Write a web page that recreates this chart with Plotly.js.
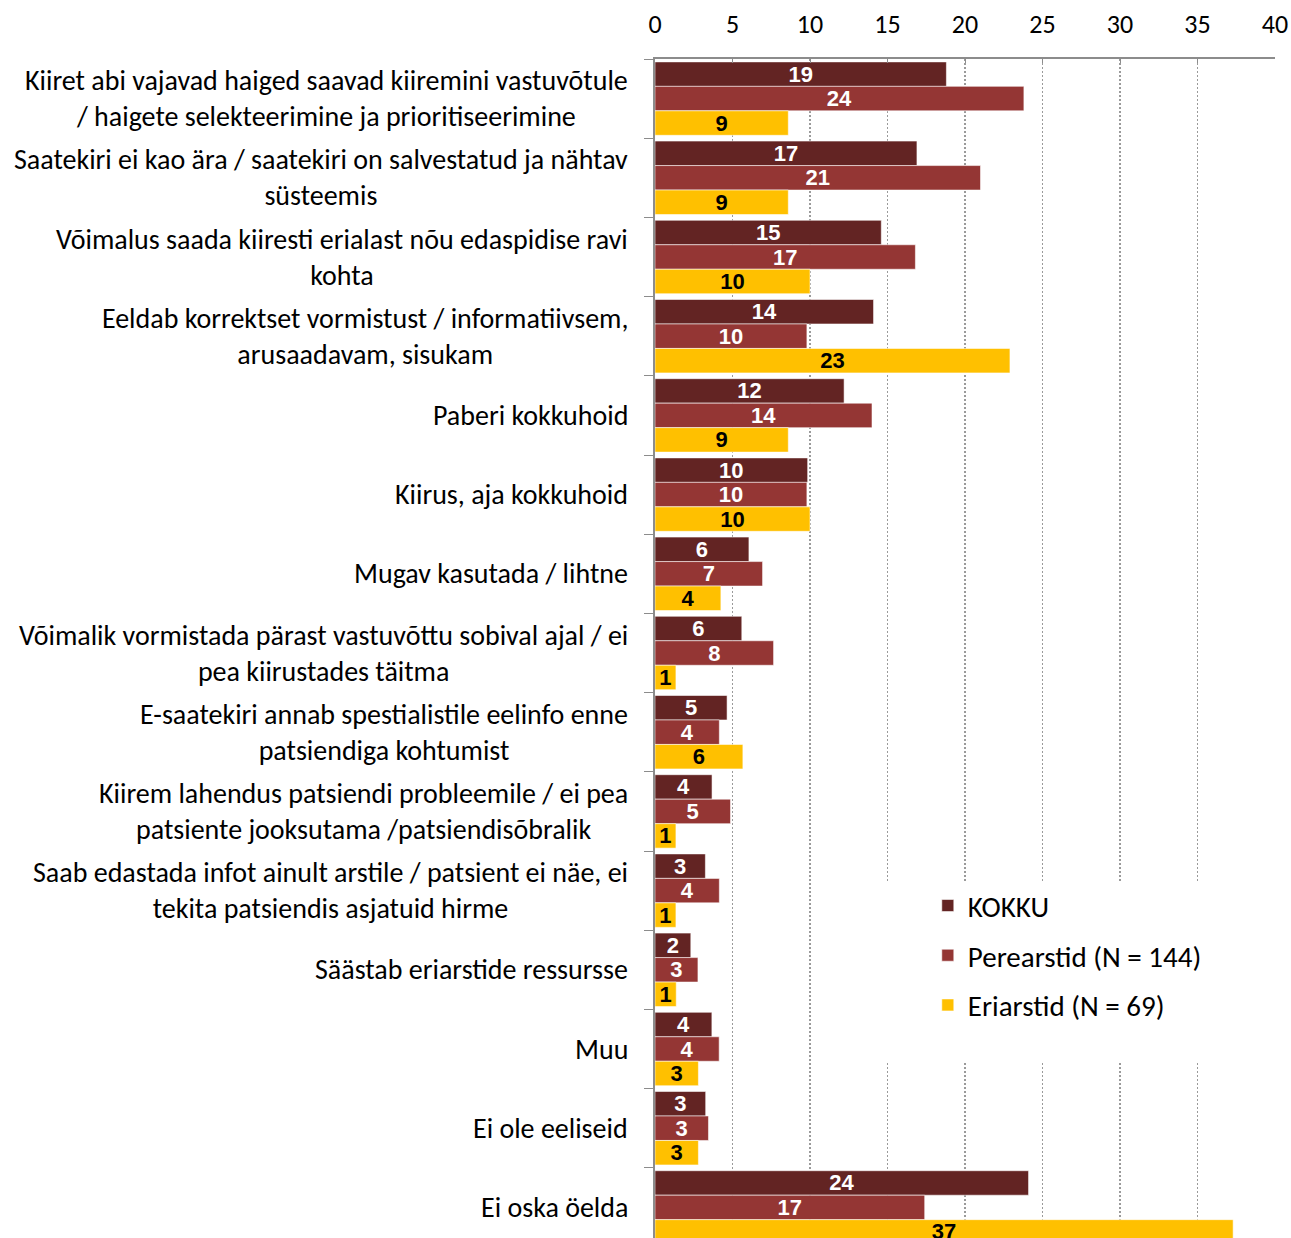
<!DOCTYPE html>
<html>
<head>
<meta charset="utf-8">
<script src="https://cdn.plot.ly/plotly-3.0.1.min.js"></script>
<style>
  html, body { margin: 0; padding: 0; background: #fff; overflow: hidden; }
  #chart { width: 1291px; height: 1238px; }
</style>
</head>
<body>
<div id="chart"></div>
<script>
// ---- data ----
const categories = [
  "Kiiret abi vajavad haiged saavad kiiremini vastuvõtule<br>/ haigete selekteerimine ja prioritiseerimine",
  "Saatekiri ei kao ära / saatekiri on salvestatud ja nähtav<br>süsteemis",
  "Võimalus saada kiiresti erialast nõu edaspidise ravi<br>kohta",
  "Eeldab korrektset vormistust / informatiivsem,<br>arusaadavam, sisukam",
  "Paberi kokkuhoid",
  "Kiirus, aja kokkuhoid",
  "Mugav kasutada / lihtne",
  "Võimalik vormistada pärast vastuvõttu sobival ajal / ei<br>pea kiirustades täitma",
  "E-saatekiri annab spestialistile eelinfo enne<br>patsiendiga kohtumist",
  "Kiirem lahendus patsiendi probleemile / ei pea<br>patsiente jooksutama /patsiendisõbralik",
  "Saab edastada infot ainult arstile / patsient ei näe, ei<br>tekita patsiendis asjatuid hirme",
  "Säästab eriarstide ressursse",
  "Muu",
  "Ei ole eeliseid",
  "Ei oska öelda"
];
const kokku      = [18.8, 16.9, 14.6, 14.1, 12.2, 9.85, 6.06, 5.6, 4.65, 3.68, 3.25, 2.31, 3.67, 3.27, 24.1];
const perearstid = [23.8, 21.0, 16.8, 9.8, 14.0, 9.8, 6.94, 7.65, 4.15, 4.87, 4.15, 2.77, 4.14, 3.45, 17.4];
const eriarstid  = [8.6, 8.6, 10.0, 22.9, 8.6, 10.0, 4.25, 1.35, 5.67, 1.35, 1.35, 1.37, 2.8, 2.8, 37.3];
const seriesNames = ["KOKKU", "Perearstid (N = 144)", "Eriarstid (N = 69)"];
const xTicks = [0, 5, 10, 15, 20, 25, 30, 35, 40];

// ---- styles ----
const colors = ["#632423", "#943634", "#FFC000"];
const textColors = ["#ffffff", "#ffffff", "#000000"];
const labelFont = "Carlito, Calibri, Lato, 'Open Sans', sans-serif";

const values = [kokku, perearstid, eriarstid];
const traces = values.map((v, i) => ({
  type: "bar",
  orientation: "h",
  name: seriesNames[i],
  legendgroup: "g" + i,
  x: v,
  y: categories,
  marker: { color: colors[i], line: { color: "rgba(255,255,255,0.55)", width: 1 } },
  texttemplate: "%{x:.0f}",
  textposition: "inside",
  insidetextanchor: "middle",
  constraintext: "none",
  textangle: 0,
  textfont: { family: "'Liberation Sans', Arial, sans-serif", size: 22, color: textColors[i], weight: "bold" },
  hoverinfo: "x+name"
}));

const annotations = categories.map(c => ({
  x: 0, xref: "x", y: c, yref: "y",
  xanchor: "right", yanchor: "middle", xshift: -25,
  align: "center", showarrow: false,
  text: c,
  font: { family: labelFont, size: 28, color: "#000" }
}));

const layout = {
  width: 1291, height: 1238,
  margin: { l: 655, r: 16, t: 59, b: 0, pad: 0 },
  paper_bgcolor: "#fff", plot_bgcolor: "#fff",
  barmode: "group",
  bargap: 0.073,
  bargroupgap: 0,
  showlegend: true,
  legend: {
    x: 0.44, xanchor: "left", y: 0.3035, yanchor: "top",
    bgcolor: "rgba(0,0,0,0)",
    font: { family: labelFont, size: 29, color: "#000" },
    tracegroupgap: 9,
    traceorder: "grouped"
  },
  xaxis: {
    side: "top",
    range: [0, 40],
    tickvals: xTicks,
    ticktext: xTicks.map(String),
    showgrid: true,
    gridcolor: "#9a9a9a",
    gridwidth: 1.5,
    griddash: "2px,2px",
    zeroline: false,
    showline: true,
    linecolor: "#8c8c8c",
    linewidth: 2,
    ticks: "inside",
    ticklen: 4,
    tickcolor: "#8c8c8c",
    ticklabelstandoff: 14,
    tickfont: { family: labelFont, size: 26, color: "#000" },
    fixedrange: true
  },
  yaxis: {
    type: "category",
    range: [14.386, -0.5],
    autorange: false,
    showticklabels: false,
    showgrid: false,
    zeroline: false,
    showline: true,
    linecolor: "#8c8c8c",
    linewidth: 2,
    ticks: "outside",
    tickson: "boundaries",
    ticklen: 9,
    tickcolor: "#8c8c8c",
    fixedrange: true
  },
  shapes: [{
    type: "rect", xref: "paper", yref: "paper", layer: "above",
    x0: 0.355, x1: 0.985, y0: 0.15, y1: 0.302,
    fillcolor: "#ffffff", line: { width: 0 }
  }],
  annotations: annotations
};

Plotly.newPlot("chart", traces, layout, { staticPlot: true, displayModeBar: false });
</script>
</body>
</html>
